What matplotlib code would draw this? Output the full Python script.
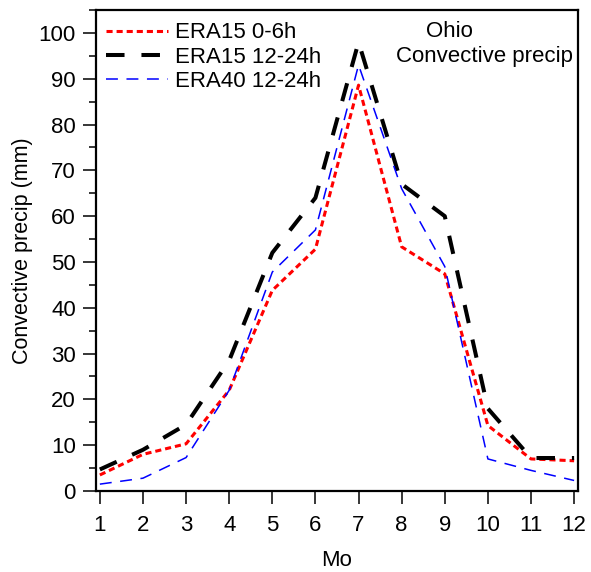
import matplotlib.pyplot as plt
from matplotlib.ticker import MultipleLocator

plt.rcParams['font.family'] = ['Liberation Sans', 'DejaVu Sans']

months = [1, 2, 3, 4, 5, 6, 7, 8, 9, 10, 11, 12]
era15_06 = [3.5, 8.0, 10.3, 22.0, 43.8, 52.8, 88.6, 53.3, 47.4, 14.3, 7.0, 6.6]
era15_1224 = [4.7, 9.0, 14.5, 28.5, 52.0, 64.0, 98.0, 67.0, 60.0, 18.0, 7.2, 7.2]
era40_1224 = [1.5, 2.8, 7.3, 22.0, 47.8, 57.0, 93.0, 66.0, 49.0, 7.0, 4.5, 2.3]

fig = plt.figure(figsize=(5.91, 5.72), dpi=100)
ax = fig.add_axes([0.1624, 0.1416, 0.8156, 0.8409])

ax.plot(months, era15_06, color='red', lw=2.2, dashes=(2.0, 1.3), label='ERA15 0-6h')
ax.plot(months, era15_1224, color='black', lw=2.9, dashes=(4.6, 4.2), label='ERA15 12-24h')
ax.plot(months, era40_1224, color='blue', lw=1.1, dashes=(7.8, 5.6), label='ERA40 12-24h')

ax.set_xlim(0.91, 12.09)
ax.set_ylim(0, 105)
ax.set_xticks(months)
ax.yaxis.set_major_locator(MultipleLocator(10))
ax.yaxis.set_minor_locator(MultipleLocator(5))
ax.tick_params(axis='both', which='major', direction='out', length=9.5, width=1.1, labelsize=16)
ax.tick_params(axis='x', which='major', pad=8)
ax.tick_params(axis='y', which='major', pad=5)
ax.tick_params(axis='y', which='minor', direction='out', length=5, width=1.1)
for s in ax.spines.values():
    s.set_linewidth(1.6)

ax.set_xlabel('Mo', fontsize=16, labelpad=10)
ax.set_ylabel('Convective precip (mm)', fontsize=15.5, labelpad=4)

ax.legend(loc='upper left', bbox_to_anchor=(0, 0.995), frameon=False, fontsize=16,
          handlelength=2.8, handletextpad=0.3, labelspacing=0.15,
          borderaxespad=0.2, borderpad=0.25)

ax.text(0.734, 0.944, 'Ohio', transform=ax.transAxes, fontsize=16, ha='center', va='baseline')
ax.text(0.99, 0.892, 'Convective precip', transform=ax.transAxes, fontsize=16, ha='right', va='baseline')

fig.savefig('out.png', dpi=100)
